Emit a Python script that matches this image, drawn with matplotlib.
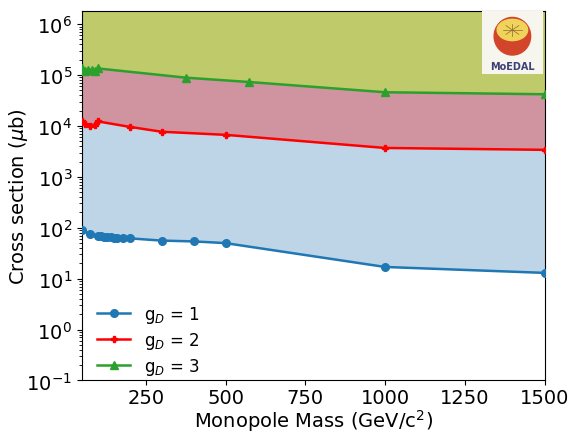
import numpy as np
import matplotlib
matplotlib.use("Agg")
import matplotlib.pyplot as plt
from matplotlib.patches import Circle, Ellipse

# masses in GeV/c^2, cross sections in microbarn
mass_g1 = [50, 75, 100, 110, 120, 130, 140, 150, 160, 180, 200, 300, 400, 500, 1000, 1500]
xsec_g1 = [90, 76, 70, 68, 67, 66, 65, 64, 63, 63, 62, 56, 54, 50, 17, 13]

mass_g2 = [50, 60, 75, 90, 100, 200, 300, 500, 1000, 1500]
xsec_g2 = [12300, 11000, 10200, 10600, 12300, 9600, 7700, 6700, 3700, 3400]

mass_g3 = [50, 60, 70, 80, 90, 100, 375, 575, 1000, 1500]
xsec_g3 = [135000, 122000, 124000, 128000, 122000, 135000, 89000, 73000, 46000, 42000]

labels = ["g$_D$ = 1", "g$_D$ = 2", "g$_D$ = 3"]

y_top = 1.8e6

fig = plt.figure(figsize=(5.69, 4.35), dpi=100)
ax = fig.add_axes([0.144, 0.123, 0.813, 0.849])

ax.fill_between(mass_g1, xsec_g1, y_top, color="#bdd5e7", lw=0, zorder=1)
ax.fill_between(mass_g2, xsec_g2, y_top, color="#cf949f", lw=0, zorder=1)
ax.fill_between(mass_g3, xsec_g3, y_top, color="#bfca6a", lw=0, zorder=1)

ax.plot(mass_g1, xsec_g1, "o-", color="tab:blue", ms=5.5, lw=1.8, label=labels[0], zorder=3)
ax.plot(mass_g2, xsec_g2, "P-", color="red", ms=5, lw=1.8, label=labels[1], zorder=3)
ax.plot(mass_g3, xsec_g3, "^-", color="tab:green", ms=5.5, lw=1.8, label=labels[2], zorder=3)

ax.set_yscale("log")
ax.set_xlim(50, 1500)
ax.set_ylim(0.1, y_top)
ax.set_xticks([250, 500, 750, 1000, 1250, 1500])
ax.tick_params(labelsize=14)
ax.tick_params(axis="x", pad=2)
ax.set_xlabel("Monopole Mass (GeV/c$^2$)", fontsize=14, labelpad=0)
ax.set_ylabel(r"Cross section ($\mu$b)", fontsize=14)
ax.yaxis.set_label_coords(-0.113, 0.5)
ax.legend(loc="lower left", frameon=False, fontsize=12, labelspacing=0.3,
          bbox_to_anchor=(0.0, -0.03))

# MoEDAL logo, drawn roughly
logo = fig.add_axes([0.847, 0.828, 0.107, 0.144])
logo.set_xlim(0, 1)
logo.set_ylim(0, 1)
logo.set_facecolor("#f7f6ee")
for s in logo.spines.values():
    s.set_visible(False)
logo.set_xticks([])
logo.set_yticks([])
logo.add_patch(Circle((0.5, 0.6), 0.3, color="#d2452b"))
logo.add_patch(Ellipse((0.5, 0.7), 0.5, 0.34, color="#efd35a"))
for a in np.linspace(0, np.pi, 4, endpoint=False):
    logo.plot([0.5 - 0.15 * np.cos(a), 0.5 + 0.15 * np.cos(a)],
              [0.7 - 0.1 * np.sin(a), 0.7 + 0.1 * np.sin(a)], color="#8a6a30", lw=0.5)
logo.text(0.5, 0.12, "MoEDAL", ha="center", va="center", fontsize=7,
          fontweight="bold", color="#3d4178")

fig.savefig("out.png", dpi=100)
